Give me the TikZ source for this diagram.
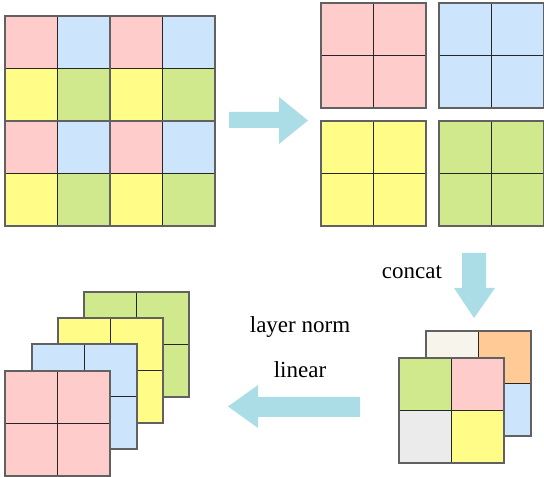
\documentclass[tikz,border=0pt]{standalone}
\usepackage{fontspec}
\setmainfont{Liberation Serif}
\definecolor{cpink}{HTML}{FFCCCC}
\definecolor{cblue}{HTML}{CCE4FC}
\definecolor{cyellow}{HTML}{FFFD88}
\definecolor{cgreen}{HTML}{D0E98C}
\definecolor{ccream}{HTML}{F7F4EC}
\definecolor{corange}{HTML}{FFCA96}
\definecolor{cgray}{HTML}{EBEBEB}
\definecolor{carrow}{HTML}{ABDDE6}
\tikzset{
  inner line/.style={draw=black!85,line width=1.1pt},
  outer line/.style={draw=black!62,line width=2pt},
  lbl/.style={font=\fontsize{23}{27}\selectfont,inner sep=0pt}
}
% 2x2 patch: x, y, top-left, top-right, bottom-left, bottom-right
\newcommand{\patchblock}[6]{%
  \begin{scope}[shift={(#1,#2)}]
    \fill[#3] (0,52.6) rectangle (52.6,105.2);
    \fill[#4] (52.6,52.6) rectangle (105.2,105.2);
    \fill[#5] (0,0) rectangle (52.6,52.6);
    \fill[#6] (52.6,0) rectangle (105.2,52.6);
    \draw[inner line] (52.6,0) -- (52.6,105.2) (0,52.6) -- (105.2,52.6);
    \draw[outer line] (0,0) rectangle (105.2,105.2);
  \end{scope}}
\begin{document}
\begin{tikzpicture}[x=1pt,y=1pt]
  \useasboundingbox (0,0) rectangle (544,477);

  % input image, 4x4
  \foreach \i in {0,2} {
    \foreach \j in {0,2} {
      \patchblock{5+52.6*\i}{251+52.6*\j}{cpink}{cblue}{cyellow}{cgreen}
    }
  }
  \draw[outer line] (5,251) rectangle (215.4,461.4);

  % split into four
  \patchblock{321}{369}{cpink}{cpink}{cpink}{cpink}
  \patchblock{439}{369}{cblue}{cblue}{cblue}{cblue}
  \patchblock{321}{251}{cyellow}{cyellow}{cyellow}{cyellow}
  \patchblock{439}{251}{cgreen}{cgreen}{cgreen}{cgreen}

  % concat
  \patchblock{426}{41}{ccream}{corange}{cgray}{cblue}
  \patchblock{399}{14}{cgreen}{cpink}{cgray}{cyellow}

  % output stack
  \patchblock{84}{80}{cgreen}{cgreen}{cgreen}{cgreen}
  \patchblock{58}{54}{cyellow}{cyellow}{cyellow}{cyellow}
  \patchblock{32}{28}{cblue}{cblue}{cblue}{cblue}
  \patchblock{5}{1}{cpink}{cpink}{cpink}{cpink}

  % arrows
  \fill[carrow] (229,349) -- (279,349) -- (279,333) -- (308,356.5)
    -- (279,380) -- (279,365) -- (229,365) -- cycle;
  \fill[carrow] (462,224) -- (462,189) -- (454,189) -- (474,159)
    -- (495,189) -- (486,189) -- (486,224) -- cycle;
  \fill[carrow] (360,60) -- (258,60) -- (258,49) -- (228,70.5)
    -- (258,92) -- (258,80) -- (360,80) -- cycle;

  \node[lbl] (concat) at (412,205) {concat};
  \node[lbl] (norm) at (300,150) {layer norm};
  \node[lbl] (linear) at (300,107) {linear};
\end{tikzpicture}
\end{document}
